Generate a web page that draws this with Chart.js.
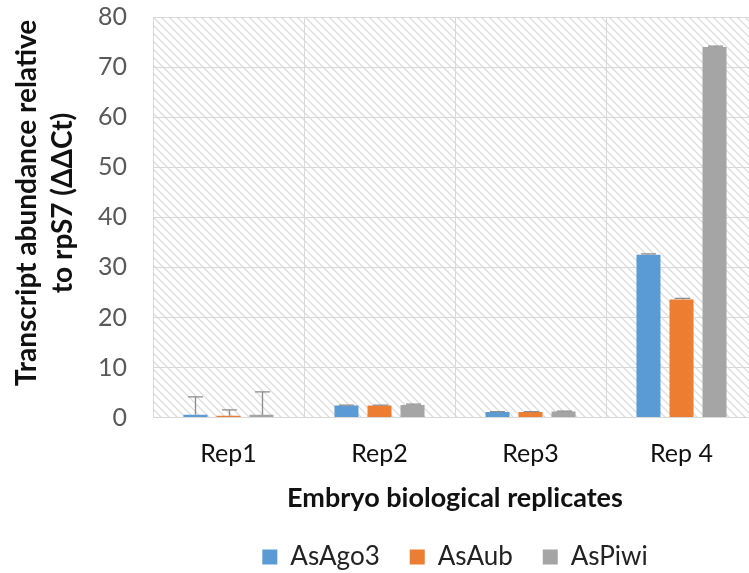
<!DOCTYPE html>
<html>
<head>
<meta charset="utf-8">
<script src="https://cdn.jsdelivr.net/npm/chart.js@4/dist/chart.umd.min.js"></script>
<style>
  html, body { margin: 0; padding: 0; background: #fff; overflow: hidden; }
  #wrap { position: relative; width: 760px; height: 573px; }
</style>
</head>
<body>
<div id="wrap"><canvas id="c"></canvas></div>
<script>
// Replicates on the x axis
const categories = ['Rep1', 'Rep2', 'Rep3', 'Rep 4'];

// Mean relative transcript abundance per gene
const asAgo3 = [0.55, 2.4, 1.1, 32.5];
const asAub  = [0.35, 2.4, 1.1, 23.6];
const asPiwi = [0.55, 2.5, 1.2, 74.0];

// Upper error (plus only)
const asAgo3Err = [3.6, 0.1, 0.1, 0.2];
const asAubErr  = [1.2, 0.1, 0.1, 0.2];
const asPiwiErr = [4.6, 0.2, 0.1, 0.2];

const yTicks = [0, 10, 20, 30, 40, 50, 60, 70, 80];
const yTitleLines = ['Transcript abundance relative', 'to rpS7 (\u0394\u0394Ct)'];

const FONT = 'Lato, "Open Sans", sans-serif';

// Diagonal hatch behind the plot area
function makeHatch() {
  const p = document.createElement('canvas');
  p.width = 8; p.height = 8;
  const g = p.getContext('2d');
  g.fillStyle = '#ffffff';
  g.fillRect(0, 0, 8, 8);
  g.strokeStyle = '#dcdcdc';
  g.lineWidth = 1.3;
  g.beginPath();
  g.moveTo(-2, -2); g.lineTo(10, 10);
  g.moveTo(-10, -2); g.lineTo(2, 10);
  g.moveTo(6, -2); g.lineTo(18, 10);
  g.stroke();
  return p;
}

const hatchPlugin = {
  id: 'hatch',
  beforeDraw(chart) {
    const { ctx, chartArea: a } = chart;
    ctx.save();
    ctx.fillStyle = ctx.createPattern(makeHatch(), 'repeat');
    ctx.fillRect(a.left, a.top, a.right - a.left, a.bottom - a.top);
    ctx.restore();
  }
};

// Two-line rotated title for the value axis
const yTitlePlugin = {
  id: 'yTitle',
  afterDraw(chart) {
    const { ctx } = chart;
    ctx.save();
    ctx.fillStyle = '#111';
    ctx.font = 'bold 28px ' + FONT;
    ctx.textAlign = 'center';
    ctx.textBaseline = 'middle';
    const xs = [27, 63];
    yTitleLines.forEach((t, i) => {
      ctx.save();
      ctx.translate(xs[i], 203);
      ctx.rotate(-Math.PI / 2);
      ctx.fillText(t, 0, 0);
      ctx.restore();
    });
    ctx.restore();
  }
};

// Plus-only error bars drawn from each bar's value
const errorBarPlugin = {
  id: 'errorBars',
  afterDatasetsDraw(chart) {
    const { ctx } = chart;
    const y = chart.scales.y;
    ctx.save();
    ctx.strokeStyle = '#8c8c8c';
    ctx.lineWidth = 1.3;
    chart.data.datasets.forEach((ds, di) => {
      const meta = chart.getDatasetMeta(di);
      meta.data.forEach((bar, i) => {
        const v = ds.data[i];
        const e = ds.errors[i];
        const y0 = y.getPixelForValue(v);
        const y1 = y.getPixelForValue(v + e);
        const x = Math.round(bar.x) + 0.5;
        ctx.beginPath();
        ctx.moveTo(x, y0);
        ctx.lineTo(x, y1);
        ctx.moveTo(x - 7.5, y1);
        ctx.lineTo(x + 7.5, y1);
        ctx.stroke();
      });
    });
    ctx.restore();
  }
};

const datasets = [
  { label: 'AsAgo3', data: asAgo3, errors: asAgo3Err, backgroundColor: '#5b9bd5' },
  { label: 'AsAub',  data: asAub,  errors: asAubErr,  backgroundColor: '#ed7d31' },
  { label: 'AsPiwi', data: asPiwi, errors: asPiwiErr, backgroundColor: '#a5a5a5' }
];

new Chart(document.getElementById('c'), {
  type: 'bar',
  data: {
    labels: categories,
    datasets: datasets.map(d => Object.assign({
      categoryPercentage: 0.656,
      barPercentage: 0.727,
      borderWidth: 0
    }, d))
  },
  options: {
    responsive: true,
    maintainAspectRatio: false,
    animation: false,
    layout: { padding: { top: 17, right: 3, bottom: -7, left: 0 } },
    plugins: {
      legend: {
        position: 'bottom',
        fullSize: false,
        labels: {
          font: { family: FONT, size: 26 },
          color: '#222',
          boxWidth: 15,
          boxHeight: 15,
          padding: 30
        }
      },
      tooltip: { enabled: false }
    },
    scales: {
      x: {
        offset: true,
        afterFit(scale) { scale.height -= 8; },
        grid: { display: true, offset: true, color: '#d9d9d9', drawTicks: false },
        border: { display: true, color: '#d9d9d9' },
        ticks: { font: { family: FONT, size: 25 }, color: '#111', padding: 21 },
        title: {
          display: true,
          text: 'Embryo biological replicates',
          font: { family: FONT, size: 27, weight: 'bold' },
          color: '#111',
          padding: { top: 0, bottom: 0 }
        }
      },
      y: {
        min: 0,
        max: 80,
        afterBuildTicks(scale) { scale.ticks = yTicks.map(v => ({ value: v })); },
        afterFit(scale) {
          scale.width = 153;
          scale.paddingTop = 0;
          scale.paddingBottom = 0;
        },
        grid: { color: '#d9d9d9', drawTicks: false },
        border: { display: true, color: '#d9d9d9' },
        ticks: { font: { family: FONT, size: 25 }, color: '#595959', padding: 26 },
        title: { display: false }
      }
    }
  },
  plugins: [hatchPlugin, errorBarPlugin, yTitlePlugin]
});
</script>
</body>
</html>
